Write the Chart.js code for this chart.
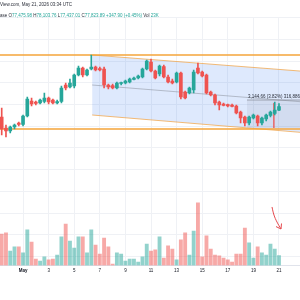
<!DOCTYPE html>
<html>
<head>
<meta charset="utf-8">
<script src="https://cdn.jsdelivr.net/npm/chart.js@4.4.1/dist/chart.umd.min.js"></script>
<style>
  html, body { margin: 0; padding: 0; background: #fff; overflow: hidden; }
  #wrap { position: relative; width: 300px; height: 300px; overflow: hidden; }
  #wrap canvas { position: absolute; left: -20px; top: 0; }
</style>
</head>
<body>
<div id="wrap"><canvas id="chart" width="320" height="300"></canvas></div>
<script>
// 8h candles, x = number of 8h steps since May 1 00:00
const firstStep = -5;
const open = [76857, 75843, 75567, 75935, 76304, 76166, 76949, 78332, 78240, 78147,
  78286, 78608, 78424, 78147, 78286, 79807, 79622, 79714, 80728, 81373,
  80728, 81281, 81466, 81327, 81281, 79807, 79760, 79530, 79945, 79991,
  80083, 80314, 80452, 80544, 81281, 81926, 81097, 80820, 81512, 80544,
  80175, 80083, 80913, 79161, 79069, 79346, 81373, 81005, 80728, 79161,
  78885, 78240, 78055, 78009, 77963, 77871, 77318, 76857, 76304, 76765,
  76949, 76304, 76673, 76995, 77180, 77476];
const high = [77687, 76120, 76028, 76212, 76396, 77041, 78701, 78608, 78332, 78516,
  79069, 78701, 78516, 78424, 79714, 79991, 80360, 80820, 81558, 81466,
  81281, 82572, 81558, 81466, 81466, 79899, 79899, 80083, 80083, 80267,
  80452, 80544, 80728, 81373, 82111, 82203, 81189, 81650, 81650, 80728,
  80360, 81005, 81005, 79254, 79622, 81189, 81834, 81097, 80820, 79254,
  78977, 78332, 78147, 78055, 78055, 77963, 77410, 76949, 76949, 77134,
  77041, 76857, 77134, 77410, 78240, 78104];
const low = [75198, 75014, 75382, 75751, 76028, 76028, 76857, 77871, 77963, 78055,
  78147, 78055, 78055, 78055, 78147, 79346, 79530, 79530, 80636, 80544,
  80636, 81189, 81097, 81097, 79530, 79438, 79438, 79438, 79807, 79899,
  79991, 80267, 80360, 80452, 81189, 81005, 80360, 80636, 80452, 79991,
  79899, 79991, 78516, 78516, 78977, 79069, 80820, 80544, 78977, 78793,
  77963, 77502, 77871, 77779, 77779, 77134, 76304, 76028, 76120, 76673,
  76028, 76120, 76488, 76857, 77041, 77437];
const close = [75751, 75567, 75935, 76120, 76166, 76949, 78516, 78055, 78101, 78424,
  78608, 78240, 78147, 78286, 79530, 79530, 79991, 80728, 81373, 80728,
  81189, 81466, 81189, 81189, 79807, 79622, 79530, 79991, 80037, 80175,
  80360, 80452, 80636, 81281, 82019, 81097, 80452, 81558, 80544, 80083,
  79991, 80913, 78701, 78608, 79530, 81005, 80913, 80636, 79069, 78885,
  78147, 77963, 77917, 77871, 77825, 77226, 76765, 76304, 76857, 77041,
  76304, 76765, 77041, 77318, 77502, 77824];
// volume in thousands
const volume = [72, 75, 33, 43, 43, 29, 82, 54, 15, 10,
  20, 13, 15, 24, 66, 95, 56, 40, 66, 66,
  29, 82, 47, 26, 63, 43, 3, 29, 26, 10,
  15, 15, 8, 20, 49, 33, 36, 66, 17, 45,
  38, 13, 59, 75, 24, 79, 144, 20, 68, 38,
  24, 22, 17, 13, 8, 26, 26, 86, 52, 17,
  43, 29, 24, 49, 38, 23];

const tickSteps = [-6, 0, 6, 12, 18, 24, 30, 36, 42, 48, 54, 60];
const tickLabels = ['29', 'May', '3', '5', '7', '9', '11', '13', '15', '17', '19', '21'];

// drawings
const levelSteps = [-20, 80];
const upperLevel = 82572;
const lowerLevel = 75751;
const channelSteps = [16.2, 66];
const channelTop = [82572, 81060];
const channelBottom = [77040, 75410];
const channelMid = [79806, 78235];
const rangeSteps = [52.5, 66];
const rangeTop = 78424;
const rangeBottom = 75843;
const rangeLineStep = 58.8;
const rangeLabel = '3,144.66 (3.82%) 316,886';
const arrowSteps = [58.36, 58.83, 59.53, 60.47];
const arrowVol = [134.6, 116, 100, 84];
const arrowHeadSteps = [60.59, 60.47, 59.3];
const arrowHeadVol = [96.6, 84, 89.5];

const headerLine1 = 'TradingView.com, May 21, 2026 03:34 UTC';
const headerLine2 = [['Coinbase ', 0], ['O', 0], ['77,475.98', 1], [' H', 0], ['78,103.76', 1],
  [' L', 0], ['77,437.01', 1], [' C', 0], ['77,823.89', 1], [' +347.90 (+0.45%)', 1],
  [' Vol ', 0], ['23K', 1]];

const upColor = '#26a69a', downColor = '#ef5350';
const volUp = 'rgba(38,166,154,0.5)', volDown = 'rgba(239,83,80,0.5)';
const gridColor = '#eff1f5';
const font = '"Liberation Sans", Arial, sans-serif';

const candleX = open.map((_, i) => i + firstStep);
const isUp = close.map((c, i) => c >= open[i]);
const pts = (xs, ys) => xs.map((x, i) => ({ x: x, y: ys[i] }));

const priceMin = 63170, priceMax = 86074, volMax = 571.5;
const xMin = -10.088, xMax = 64.925;

function line(label, data, color, width, extra) {
  return Object.assign({ type: 'line', label: label, data: data, borderColor: color,
    borderWidth: width, pointRadius: 0, fill: false, tension: 0 }, extra || {});
}

const headerText = {
  id: 'headerText',
  afterDraw(chart) {
    const ctx = chart.ctx;
    ctx.save();
    ctx.font = '4.5px ' + font;
    ctx.textBaseline = 'middle';
    ctx.fillStyle = '#2a2e39';
    ctx.fillText(headerLine1, 20 - ctx.measureText('Trading').width, 5);
    let x = 20 - ctx.measureText('Coinb').width;
    headerLine2.forEach(([t, c]) => {
      ctx.fillStyle = c ? upColor : '#2a2e39';
      ctx.fillText(t, x, 15.5);
      x += ctx.measureText(t).width;
    });
    ctx.restore();
  }
};

const rangeText = {
  id: 'rangeText',
  afterDatasetsDraw(chart) {
    const { x, y } = chart.scales;
    const ctx = chart.ctx;
    ctx.save();
    ctx.font = '4.5px ' + font;
    ctx.textBaseline = 'bottom';
    ctx.fillStyle = '#2a2e39';
    ctx.fillText(rangeLabel, x.getPixelForValue(rangeSteps[0]) + 1, y.getPixelForValue(rangeTop) - 1);
    ctx.restore();
  }
};

new Chart(document.getElementById('chart'), {
  type: 'bar',
  data: {
    datasets: [
      { type: 'bar', label: 'Volume', yAxisID: 'yVol', data: pts(candleX, volume),
        backgroundColor: isUp.map(u => u ? volUp : volDown), barThickness: 3.2, grouped: false, order: 9 },
      line('Channel top', pts(channelSteps, channelTop), 'rgba(242,160,60,0.7)', 1, { order: 8 }),
      line('Channel bottom', pts(channelSteps, channelBottom), 'rgba(242,160,60,0.7)', 1,
        { order: 8, fill: '-1', backgroundColor: 'rgba(33,110,240,0.15)' }),
      line('Channel mid', pts(channelSteps, channelMid), 'rgba(120,123,134,0.55)', 0.8, { order: 7 }),
      line('Range top', pts(rangeSteps, [rangeTop, rangeTop]), 'rgba(120,123,134,0.8)', 0.8, { order: 7 }),
      line('Range bottom', pts(rangeSteps, [rangeBottom, rangeBottom]), 'rgba(0,0,0,0)', 0,
        { order: 7, fill: '-1', backgroundColor: 'rgba(140,150,170,0.16)' }),
      line('Range line', pts([rangeLineStep, rangeLineStep], [rangeTop - 280, rangeBottom]), 'rgba(239,83,80,0.75)', 0.8, { order: 6 }),
      line('Upper level', pts(levelSteps, [upperLevel, upperLevel]), '#f5a53a', 1.3, { order: 5 }),
      line('Lower level', pts(levelSteps, [lowerLevel, lowerLevel]), '#f5a53a', 1.3, { order: 5 }),
      { type: 'bar', label: 'Wick', data: candleX.map((x, i) => ({ x: x, y: [low[i], high[i]] })),
        backgroundColor: isUp.map(u => u ? upColor : downColor), barThickness: 1, grouped: false, order: 2 },
      { type: 'bar', label: 'Body', data: candleX.map((x, i) => ({ x: x, y: [open[i], close[i]] })),
        backgroundColor: isUp.map(u => u ? upColor : downColor), barThickness: 3, minBarLength: 1, grouped: false, order: 1 },
      line('Arrow', pts(arrowSteps, arrowVol), '#e5484d', 1, { yAxisID: 'yVol', tension: 0.4, order: 0 }),
      line('Arrow head', pts(arrowHeadSteps, arrowHeadVol), '#e5484d', 1, { yAxisID: 'yVol', order: 0 })
    ]
  },
  options: {
    responsive: false,
    animation: false,
    devicePixelRatio: 1,
    layout: { padding: { top: 17, left: 0, right: 0, bottom: 0 } },
    plugins: { legend: { display: false }, tooltip: { enabled: false } },
    scales: {
      x: {
        type: 'linear', min: xMin, max: xMax, offset: false,
        grid: { color: gridColor, drawTicks: false, offset: false },
        border: { display: true, color: '#e0e3eb' },
        afterBuildTicks: s => { s.ticks = tickSteps.map(v => ({ value: v })); },
        afterFit: s => { s.height = 34.5; },
        ticks: {
          autoSkip: false, maxRotation: 0, padding: 3, color: '#131722',
          font: ctx => ({ size: 4.5, family: font, weight: ctx.tick && ctx.tick.value === 0 ? 'bold' : 'normal' }),
          callback: v => { const k = tickSteps.indexOf(v); return k < 0 ? '' : tickLabels[k]; }
        }
      },
      y: {
        type: 'linear', position: 'right', min: priceMin, max: priceMax,
        grid: { color: gridColor, drawTicks: false },
        border: { display: false },
        afterBuildTicks: s => {
          const t = [];
          for (let v = 64000; v <= 86000; v += 2000) t.push({ value: v });
          s.ticks = t;
        },
        afterFit: s => { s.width = 0; },
        ticks: { display: false }
      },
      yVol: { type: 'linear', min: 0, max: volMax, display: false }
    }
  },
  plugins: [headerText, rangeText]
});
</script>
</body>
</html>
